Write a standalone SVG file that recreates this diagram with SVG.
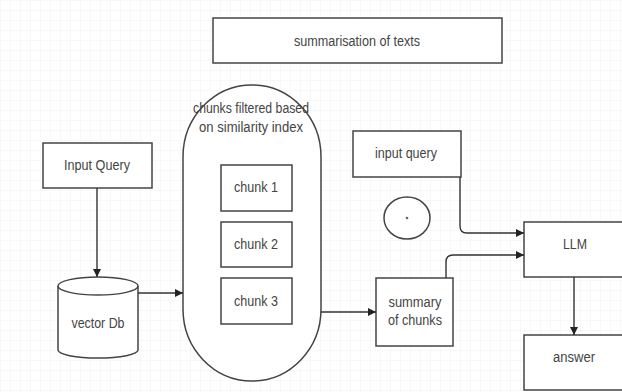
<svg xmlns="http://www.w3.org/2000/svg" width="622" height="392" viewBox="0 0 622 392">
  <defs>
    <pattern id="grid" width="10" height="10" patternUnits="userSpaceOnUse">
      <path d="M10 0H0V10" fill="none" stroke="#f1f1f1" stroke-width="1"/>
    </pattern>
    <marker id="arrow" viewBox="0 0 10 10" refX="10" refY="5" markerWidth="8" markerHeight="8" markerUnits="userSpaceOnUse" orient="auto">
      <path d="M0 0L10 5L0 10Z" fill="#222"/>
    </marker>
    <style>
      .box { fill: #fff; stroke: #444; stroke-width: 1.5; }
      .lbl { font-family: "Liberation Sans", Arial, sans-serif; font-size: 14px; fill: #444; text-anchor: middle; dominant-baseline: central; }
      .conn { fill: none; stroke: #333; stroke-width: 1.4; marker-end: url(#arrow); }
    </style>
  </defs>
  <rect width="622" height="392" fill="#fff"/>
  <rect width="622" height="392" fill="url(#grid)"/>

  <g id="title">
    <rect class="box" x="213" y="18" width="289" height="45"/>
    <text class="lbl" x="357" y="41" textLength="126" lengthAdjust="spacingAndGlyphs">summarisation of texts</text>
  </g>

  <g id="input-query">
    <rect class="box" x="43" y="143" width="109" height="45"/>
    <text class="lbl" x="97" y="165" textLength="66" lengthAdjust="spacingAndGlyphs">Input Query</text>
  </g>

  <g id="vector-db">
    <path class="box" d="M58 286 A40 9 0 0 1 138 286 V350 A40 8 0 0 1 58 350 Z"/>
    <path d="M58 286 A40 9 0 0 0 138 286" fill="none" stroke="#444" stroke-width="1.5"/>
    <text class="lbl" x="98" y="323" textLength="53" lengthAdjust="spacingAndGlyphs">vector Db</text>
  </g>

  <g id="chunks-group">
    <rect class="box" x="183" y="85" width="138" height="296" rx="69" ry="72"/>
    <text class="lbl" x="251" y="108" textLength="116" lengthAdjust="spacingAndGlyphs">chunks filtered based</text>
    <text class="lbl" x="251" y="127" textLength="104" lengthAdjust="spacingAndGlyphs">on similarity index</text>
  </g>

  <g id="chunk-1">
    <rect class="box" x="221" y="165" width="71" height="46"/>
    <text class="lbl" x="256" y="187" textLength="44" lengthAdjust="spacingAndGlyphs">chunk 1</text>
  </g>
  <g id="chunk-2">
    <rect class="box" x="221" y="222" width="71" height="45"/>
    <text class="lbl" x="256" y="244" textLength="44" lengthAdjust="spacingAndGlyphs">chunk 2</text>
  </g>
  <g id="chunk-3">
    <rect class="box" x="221" y="278" width="71" height="46"/>
    <text class="lbl" x="256" y="301" textLength="44" lengthAdjust="spacingAndGlyphs">chunk 3</text>
  </g>

  <g id="input-query-2">
    <rect class="box" x="353" y="131" width="108" height="46"/>
    <text class="lbl" x="406" y="153" textLength="62" lengthAdjust="spacingAndGlyphs">input query</text>
  </g>

  <g id="plus-circle">
    <ellipse class="box" cx="407" cy="218" rx="23" ry="21"/>
    <circle cx="407" cy="218" r="1.3" fill="#666"/>
  </g>

  <g id="summary">
    <rect class="box" x="376" y="278" width="77" height="68"/>
    <text class="lbl" x="415" y="302" textLength="53" lengthAdjust="spacingAndGlyphs">summary</text>
    <text class="lbl" x="415" y="320" textLength="54" lengthAdjust="spacingAndGlyphs">of chunks</text>
  </g>

  <g id="llm">
    <rect class="box" x="524" y="222" width="100" height="55"/>
    <text class="lbl" x="575" y="244" textLength="24" lengthAdjust="spacingAndGlyphs">LLM</text>
  </g>

  <g id="answer">
    <rect class="box" x="524" y="335" width="100" height="55"/>
    <text class="lbl" x="574" y="357" textLength="42" lengthAdjust="spacingAndGlyphs">answer</text>
  </g>

  <g id="connectors">
    <path class="conn" d="M97 188 V277"/>
    <path class="conn" d="M138 293 H183"/>
    <path class="conn" d="M321 312 H376"/>
    <path class="conn" d="M460 177 V226 Q460 233 467 233 H524"/>
    <path class="conn" d="M446 278 V262 Q446 255 453 255 H524"/>
    <path class="conn" d="M574 277 V335"/>
  </g>
</svg>
